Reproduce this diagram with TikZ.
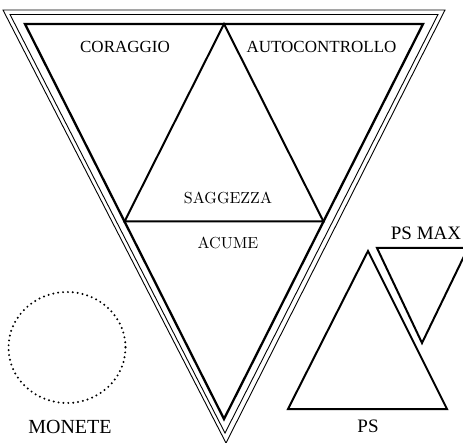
\documentclass[tikz,border=0pt]{standalone}
\usepackage{fontspec}
\usetikzlibrary{calc}
\setmainfont{Liberation Serif}
\newfontfamily\lmfont{lmroman10-regular.otf}
\begin{document}
\begin{tikzpicture}[x=1pt,y=-1pt,
  thickline/.style={line width=2.3pt,line join=miter},
  thinline/.style={line width=0.9pt,line join=miter},
  midline/.style={line width=2pt,line join=miter},
  lbl/.style={anchor=base,inner sep=0pt,font=\fontsize{17}{17}\selectfont},
  lbllm/.style={anchor=base,inner sep=0pt,font=\lmfont\fontsize{16}{16}\selectfont},
  lblbig/.style={anchor=base,inner sep=0pt,font=\fontsize{19}{19}\selectfont}]
\useasboundingbox (0,0) rectangle (463,443);
% outer triangle: three borders
\coordinate (oA) at (3,10);   \coordinate (oB) at (445,10);  \coordinate (oC) at (226,443);
\coordinate (mA) at (10,14.5);\coordinate (mB) at (438,14.5);\coordinate (mC) at (225,433);
\coordinate (tA) at (25,24);  \coordinate (tB) at (423,24);  \coordinate (tC) at (224,419);
\draw[thinline] (oA) -- (oB) -- (oC) -- cycle;
\draw[thinline] (mA) -- (mB) -- (mC) -- cycle;
\draw[thickline] (tA) -- (tB) -- (tC) -- cycle;
% inner triangle
\coordinate (iT) at ($(tA)!0.5!(tB)$);
\coordinate (iL) at ($(tA)!0.5!(tC)$);
\coordinate (iR) at ($(tB)!0.5!(tC)$);
\draw[midline] (iT) -- (iL) -- (iR) -- cycle;
% labels
\node[lbl] (cor) at (125,53) {CORAGGIO};
\node[lbl] (aut) at (321.5,53) {AUTOCONTROLLO};
\node[lbllm] (sag) at (228,204) {SAGGEZZA};
\node[lbllm] (acu) at (228,249) {ACUME};
% coins circle
\draw[line width=2.2pt,line cap=round,dash pattern=on 0pt off 4.9pt] (67,347.5) ellipse [x radius=58.5,y radius=55.5];
\node[lblbig,font=\fontsize{20}{20}\selectfont] (mon) at (70,433) {MONETE};
% PS triangle
\draw[midline] (368,251) -- (447,409) -- (288,409) -- cycle;
\node[lblbig] (ps) at (368,432) {PS};
% PS MAX triangle
\draw[midline] (377,248) -- (468,248) -- (422,343) -- cycle;
\node[lblbig] (psmax) at (426,240) {PS MAX};
\end{tikzpicture}
\end{document}
